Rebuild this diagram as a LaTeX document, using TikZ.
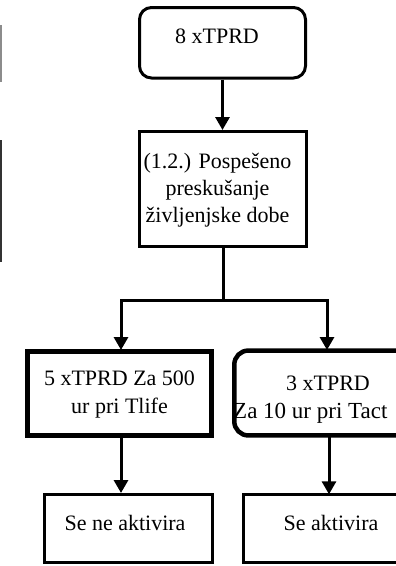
\documentclass[tikz,border=0pt]{standalone}
\usepackage{fontspec}
\setmainfont{Liberation Serif}
\usetikzlibrary{arrows.meta}
\begin{document}
\begin{tikzpicture}[x=1pt,y=-1pt,
  boxline/.style={draw=black, line width=3pt, inner sep=0pt},
  txt/.style={anchor=base, inner sep=0pt, font=\fontsize{22}{27}\selectfont},
  conn/.style={draw=black, line width=3pt},
  arr/.style={conn, -{Triangle[width=14pt,length=13pt]}}]
\useasboundingbox (0,0) rectangle (396,566);
\clip (0,0) rectangle (396,566);
\fill[white] (0,0) rectangle (396,566);
% fragments at left edge
\draw[draw=black!45, line width=2pt] (0.5,25) coordinate (fa) -- (0.5,82) coordinate (fb);
\draw[draw=black!80, line width=2.5pt] (0.8,140) coordinate (fc) -- (0.8,262) coordinate (fd);
% boxes
\node[boxline, rounded corners=12pt, minimum width=166pt, minimum height=70.5pt] (top) at (222.5,42.75) {};
\node[boxline, minimum width=167pt, minimum height=115pt] (mid) at (223,189) {};
\node[boxline, line width=5pt, minimum width=184pt, minimum height=84pt] (mL) at (119.5,393.5) {};
\node[inner sep=0pt, minimum width=200pt, minimum height=84.5pt] (mR) at (334.5,393) {};
\draw[line width=4.5pt, rounded corners=14pt] (mR.north east) -- (mR.north west) -- (mR.south west) -- (mR.south east);
\node[boxline, minimum width=168pt, minimum height=68pt] (bL) at (128.5,528.5) {};
\node[inner sep=0pt, minimum width=190pt, minimum height=68pt] (bR) at (338.5,528.5) {};
\draw[line width=3pt] (bR.north east) -- (bR.north west) -- (bR.south west) -- (bR.south east);
% texts
\node[txt] (t1) at (217,43) {8 xTPRD};
\node[txt] (t2a) at (217.5,168) {(1.2.) Pospešeno};
\node[txt] (t2b) at (217.5,195) {preskušanje};
\node[txt] (t2c) at (217.5,222) {življenjske dobe};
\node[txt] (t3a) at (119.5,385) {5 xTPRD Za 500};
\node[txt] (t3b) at (119.5,413) {ur pri Tlife};
\node[txt] (t4a) at (328,390) {3 xTPRD};
\node[txt, anchor=base west, font=\fontsize{23}{27}\selectfont] (t4b) at (233,418) {Za 10 ur pri Tact};
\node[txt] (t5) at (125,530) {Se ne aktivira};
\node[txt] (t6) at (331,530) {Se aktivira};
% connectors
\coordinate (j) at (223,300);
\draw[arr] (top.south) -- (top.south |- mid.north);
\draw[conn] (mid.south) -- (j);
\draw[arr] (j) -| (121,350) coordinate (lt);
\draw[arr] (j) -| (327,350) coordinate (rt);
\draw[arr] (121,437) coordinate (ls) -- (ls |- bL.north);
\draw[arr] (329,437) coordinate (rs) -- (rs |- bR.north);
\end{tikzpicture}
\end{document}
